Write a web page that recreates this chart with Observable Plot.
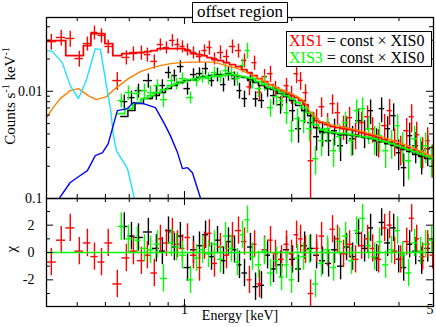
<!DOCTYPE html>
<html><head><meta charset="utf-8">
<script src="https://cdn.jsdelivr.net/npm/d3@7"></script>
<script src="https://cdn.jsdelivr.net/npm/@observablehq/plot@0.6"></script>
<style>
body{margin:0;background:#fff;}
#wrap{position:relative;width:436px;height:327px;overflow:hidden;background:#fff;font-family:"Liberation Serif","DejaVu Serif",serif;}
#top,#bot{position:absolute;left:0;}
#top{top:0;z-index:2}
#bot{top:197px;z-index:1}
.box{position:absolute;background:#fff;border:1.3px solid #000;box-sizing:border-box;z-index:5;color:#000;}
#title{left:192px;top:2px;width:96px;height:21px;font-size:17px;line-height:18px;text-align:center;}
#legend{left:286px;top:31px;width:146px;height:36px;font-size:16px;line-height:17px;padding:0 0 0 2px;white-space:nowrap;}
#ylab{position:absolute;left:9px;top:96px;transform:translate(-50%,-50%) rotate(-90deg);white-space:nowrap;font-size:15px;z-index:5;}
#ylab sup{font-size:10px;}
</style></head><body>
<div id="wrap">
  <div id="top"></div>
  <div id="bot"></div>
  <div id="title" class="box">offset region</div>
  <div id="legend" class="box"><div><span style="color:#ff0000">XIS1</span> = const × XIS0</div><div><span style="color:#00ff00">XIS3</span> = const × XIS0</div></div>
  <div id="ylab">Counts s<sup>-1</sup> keV<sup>-1</sup></div>
</div>
<script>
// ---- axes / ticks ----
const xDomain = [0.41, 5.0];
const countsDomain = [0.001, 0.0488];
const chiDomain = [-3.95, 3.95];
const xMinorTicks = [0.5, 0.6, 0.7, 0.8, 0.9, 2, 3, 4];
const xMajorTicks = [1];
const xLabelValues = [1, 5];
const xLabelTexts = ["1", "5"];
const countsMinorTicks = [0.002, 0.003, 0.004, 0.005, 0.006, 0.007, 0.008, 0.009, 0.02, 0.03, 0.04];
const countsMajorTicks = [0.01];
const countsLabelValues = [0.01, 0.001];
const countsLabelTexts = ["0.01", "0.1"];
const chiMinorTicks = [-3, -1, 1, 3];
const chiMajorTicks = [-2, 0, 2];
const chiLabelValues = [2, 0, -2];
const chiLabelTexts = ["2", "0", "-2"];

// ---- XIS1 (red) ----
const xis1Energy = [0.423,0.451,0.478,0.507,0.534,0.559,0.585,0.611,0.648,0.687,0.719,0.757,0.787,0.823,0.856,0.890,0.925,0.956,0.987,1.020,1.060,1.102,1.138,1.175,1.214,1.262,1.312,1.364,1.418,1.474,1.522,1.573,1.624,1.678,1.744,1.801,1.873,1.934,1.998,2.064,2.118,2.187,2.259,2.349,2.426,2.522,2.604,2.690,2.796,2.907,3.022,3.142,3.266,3.374,3.507,3.646,3.766,3.890,4.045,4.205,4.342,4.485,4.662,4.816,4.974];
const xis1Counts = [0.0291,0.0318,0.0311,0.0202,0.0279,0.0354,0.0332,0.0262,0.0126,0.0207,0.0225,0.0230,0.0220,0.0190,0.0273,0.0256,0.0298,0.0273,0.0262,0.0245,0.0230,0.0211,0.0240,0.0256,0.0202,0.0230,0.0211,0.0262,0.0240,0.0194,0.0110,0.0185,0.0098,0.0137,0.0146,0.0106,0.00873,0.0113,0.00932,0.0146,0.0126,0.00972,0.00225,0.00556,0.00719,0.00510,0.00767,0.00632,0.00468,0.00568,0.00394,0.00510,0.00580,0.00448,0.00339,0.00478,0.00660,0.00346,0.00291,0.00429,0.00580,0.00394,0.00279,0.00346,0.00235];
const xis1Err = [0.0049,0.0054,0.0053,0.0034,0.0042,0.0053,0.0050,0.0039,0.0024,0.0031,0.0034,0.0035,0.0033,0.0029,0.0035,0.0033,0.0039,0.0035,0.0034,0.0032,0.0030,0.0027,0.0031,0.0038,0.0026,0.0035,0.0032,0.0039,0.0036,0.0029,0.0019,0.0028,0.0016,0.0023,0.0025,0.0018,0.0017,0.0019,0.0018,0.0028,0.0024,0.0018,0.0020,0.0012,0.0015,0.0011,0.0016,0.0015,0.0012,0.0014,0.0011,0.0013,0.0015,0.0012,0.0010,0.0013,0.0018,0.0010,0.0009,0.0013,0.0017,0.0012,0.0009,0.0011,0.0008];
const xis1Model = [0.02972,0.02972,0.02153,0.02153,0.02669,0.03454,0.03454,0.02787,0.02153,0.02248,0.02296,0.02296,0.02346,0.02397,0.02503,0.02503,0.02503,0.02503,0.02503,0.02397,0.02248,0.02200,0.02153,0.02063,0.01976,0.01934,0.01852,0.01775,0.01700,0.01594,0.01494,0.01401,0.01314,0.01232,0.01155,0.01083,0.01015,0.00972,0.00912,0.00873,0.00819,0.00751,0.00633,0.00533,0.00510,0.00489,0.00468,0.00458,0.00449,0.00439,0.00430,0.00412,0.00394,0.00386,0.00370,0.00354,0.00339,0.00325,0.00312,0.00298,0.00286,0.00274,0.00262,0.00251,0.00241];
const xis1Chi = [-0.7,0.9,1.8,0.1,0.7,-0.3,-0.7,0.7,-2.3,-0.4,0.1,-0.6,-0.2,-1.5,1.0,0.7,1.5,0.6,0.3,1.1,-0.2,-1.1,0.5,1.4,-0.8,0.4,-0.2,1.2,1.6,0.8,-2.0,0.6,-2.3,0.2,0.9,-0.1,-0.5,0.6,-0.1,1.3,1.0,0.2,-3.0,0.3,1.2,0.0,1.7,1.0,-0.1,0.6,-0.5,0.5,1.0,0.3,-0.5,1.8,2.0,0.1,-0.5,0.8,2.5,1.0,-0.3,0.6,-0.2];

// ---- XIS0 (black) ----
const xis0Energy = [0.678,0.710,0.743,0.792,0.834,0.867,0.902,0.937,0.974,1.020,1.060,1.102,1.146,1.191,1.238,1.287,1.329,1.382,1.427,1.474,1.532,1.583,1.645,1.711,1.778,1.861,1.934,2.011,2.090,2.174,2.259,2.349,2.441,2.538,2.638,2.743,2.851,2.964,3.081,3.203,3.330,3.462,3.576,3.718,3.865,3.992,4.124,4.286,4.456,4.632,4.816];
const xis0Counts = [0.00801,0.00873,0.01015,0.01259,0.00972,0.01131,0.01496,0.01402,0.01701,0.01060,0.01432,0.01464,0.01630,0.01259,0.01432,0.01155,0.01464,0.01314,0.01015,0.00855,0.01259,0.0085,0.0082,0.01060,0.00912,0.00751,0.00932,0.00660,0.00448,0.00660,0.00510,0.00377,0.00411,0.00346,0.00429,0.00311,0.00448,0.00361,0.00532,0.00411,0.00660,0.00346,0.00689,0.00448,0.00593,0.00267,0.00194,0.00385,0.00311,0.00251,0.00291];
const xis0Err = [0.0012,0.0013,0.0015,0.0019,0.0015,0.0015,0.0019,0.0018,0.0022,0.0014,0.0019,0.0019,0.0021,0.0016,0.0021,0.0017,0.0022,0.0020,0.0017,0.0015,0.0021,0.0014,0.0013,0.0018,0.0017,0.0014,0.0018,0.0014,0.0012,0.0016,0.0012,0.0010,0.0011,0.0010,0.0012,0.0009,0.0013,0.0011,0.0015,0.0012,0.0017,0.0010,0.0018,0.0013,0.0017,0.00085,0.00066,0.0012,0.0010,0.00085,0.00093];
const xis0Model = [0.00581,0.00661,0.00768,0.00855,0.00912,0.00972,0.01060,0.01130,0.01206,0.01259,0.01286,0.01342,0.01371,0.01401,0.01401,0.01432,0.01432,0.01401,0.01371,0.01342,0.01286,0.01206,0.01130,0.01083,0.01037,0.00952,0.00892,0.00819,0.00736,0.00661,0.00593,0.00458,0.00421,0.00412,0.00403,0.00394,0.00394,0.00386,0.00378,0.00370,0.00362,0.00347,0.00339,0.00325,0.00312,0.00298,0.00286,0.00274,0.00257,0.00246,0.00236];
const xis0Chi = [1.9,1.2,1.1,1.5,0.3,0.1,1.6,0.4,1.2,-1.1,0.2,0.5,1.3,-0.3,0.9,-0.6,0.8,0.2,-0.9,-1.5,0.4,-2.5,-2.4,-0.2,-1.2,-0.9,0.2,-0.5,-1.2,0.5,0.3,-0.2,-0.6,-0.8,0.2,-1.0,0.4,-0.3,1.4,0.3,1.8,-0.4,2.2,0.7,1.8,-0.5,-1.1,0.6,0.1,-0.6,0.3];

// ---- XIS3 (green) ----
const xis3Energy = [0.665,0.696,0.738,0.772,0.803,0.840,0.873,0.920,0.950,0.987,1.040,1.081,1.124,1.168,1.214,1.262,1.304,1.355,1.409,1.455,1.503,1.552,1.614,1.678,1.744,1.813,1.873,1.934,1.998,2.077,2.160,2.245,2.333,2.426,2.522,2.622,2.726,2.833,2.945,3.043,3.162,3.287,3.417,3.530,3.670,3.815,3.966,4.097,4.258,4.427,4.602,4.754,4.942];
const xis3Counts = [0.00819,0.00972,0.00952,0.01015,0.00972,0.01131,0.00836,0.01259,0.01180,0.01314,0.00873,0.01259,0.01372,0.01314,0.01496,0.01372,0.01561,0.01496,0.01314,0.01739,0.02401,0.01259,0.01060,0.01206,0.00704,0.00892,0.00819,0.00632,0.00429,0.00556,0.00532,0.00448,0.00235,0.00346,0.00448,0.00279,0.00377,0.00510,0.00346,0.00660,0.00689,0.00448,0.00361,0.00385,0.00279,0.00332,0.00478,0.00311,0.00225,0.00361,0.00279,0.00311,0.00235];
const xis3Err = [0.0012,0.0015,0.0014,0.0015,0.0015,0.0015,0.0013,0.0016,0.0015,0.0017,0.0011,0.0016,0.0018,0.0017,0.0019,0.0018,0.0023,0.0022,0.0020,0.0026,0.0041,0.0021,0.0018,0.0021,0.0013,0.0017,0.0016,0.0014,0.0010,0.0013,0.0013,0.0011,0.0007,0.0010,0.0012,0.00084,0.0011,0.0013,0.0010,0.0017,0.0018,0.0013,0.0011,0.0012,0.00089,0.0010,0.0013,0.0010,0.00077,0.0011,0.00089,0.0010,0.0008];
const xis3Model = [0.00619,0.00690,0.00784,0.00855,0.00912,0.00972,0.01037,0.01130,0.01180,0.01232,0.01286,0.01314,0.01342,0.01371,0.01401,0.01401,0.01432,0.01432,0.01401,0.01371,0.01342,0.01314,0.01232,0.01155,0.01083,0.01037,0.00972,0.00912,0.00855,0.00784,0.00705,0.00633,0.00489,0.00439,0.00421,0.00412,0.00403,0.00403,0.00394,0.00386,0.00378,0.00370,0.00362,0.00347,0.00339,0.00325,0.00312,0.00298,0.00286,0.00274,0.00262,0.00251,0.00241];
const xis3Chi = [1.9,1.0,0.9,0.3,0.2,0.6,-1.9,0.7,0.4,-0.2,-2.0,-0.4,0.2,-0.1,0.6,-0.5,1.2,0.3,-0.7,1.3,2.4,-0.3,-0.9,0.1,-1.5,-0.6,-1.8,-0.9,-2.0,-0.4,-0.3,0.2,-2.3,-0.8,0.2,-1.1,0.8,1.2,-0.6,1.6,2.5,0.5,-0.3,0.8,-0.9,0.2,1.6,-0.2,-1.5,0.7,0.1,0.6,0.9];

// ---- model components ----
const orangeEnergy = [0.410,0.426,0.448,0.478,0.504,0.537,0.566,0.604,0.644,0.696,0.752,0.829,0.913,1.020,1.206,1.409,1.604,1.744,1.897,2.050,2.160,2.259,2.379,2.570,2.930,3.330,3.790,4.310,5.000];
const orangeCounts = [0.00568,0.00690,0.00855,0.01015,0.01060,0.00912,0.00837,0.00892,0.01083,0.01314,0.01527,0.01700,0.01813,0.01872,0.01872,0.01629,0.01342,0.01155,0.01015,0.00912,0.00819,0.00633,0.00533,0.00489,0.00449,0.00403,0.00354,0.00305,0.00241];
const cyanEnergy = [0.412,0.426,0.454,0.478,0.504,0.530,0.562,0.581,0.604,0.620,0.632,0.644,0.670,0.692,0.710,0.724];
const cyanCounts = [0.02397,0.02346,0.01852,0.01130,0.00855,0.01259,0.02503,0.02450,0.01130,0.00690,0.00386,0.00280,0.00226,0.00190,0.00132,0.00098];
const blueEnergy = [0.443,0.478,0.510,0.534,0.562,0.589,0.611,0.648,0.692,0.719,0.767,0.829,0.884,0.913,0.956,0.987,1.020,1.053,1.112];
const blueCounts = [0.00098,0.00141,0.00164,0.00182,0.00251,0.00268,0.00325,0.00661,0.00690,0.00784,0.00768,0.00705,0.00479,0.00386,0.00268,0.00190,0.00194,0.00174,0.00098];

const RED = "#ff0000", GREEN = "#00ff00", BLACK = "#000000", ORANGE = "#ff8000", CYAN = "#1ee0ff", BLUE = "#0000ff";
const FONT = "Liberation Serif";

function table(E, C, Err, M, Chi) {
  const n = E.length;
  const mids = d3.range(n - 1).map(i => Math.sqrt(E[i] * E[i + 1]));
  return E.map((e, i) => ({
    e,
    lo: i > 0 ? mids[i - 1] : e * e / mids[0],
    hi: i < n - 1 ? mids[i] : e * e / mids[n - 2],
    c: C[i], err: Err[i], m: M[i], chi: Chi[i]
  }));
}
const xis0 = table(xis0Energy, xis0Counts, xis0Err, xis0Model, xis0Chi);
const xis1 = table(xis1Energy, xis1Counts, xis1Err, xis1Model, xis1Chi);
const xis3 = table(xis3Energy, xis3Counts, xis3Err, xis3Model, xis3Chi);

const W = 436, ML = 46, MR = 3;
const FW = W - ML - MR;
const TH = 199, TMT = 17, TMB = 1, TFH = TH - TMT - TMB;
const BH = 130, BMT = 1, BMB = 21, BFH = BH - BMT - BMB;

function crossesTop(rows, col) {
  return [
    Plot.ruleY(rows, {y: "c", x1: "lo", x2: "hi", stroke: col, strokeWidth: 1.4, clip: true}),
    Plot.ruleX(rows, {x: "e", y1: d => Math.max(d.c - d.err, 1e-4), y2: d => d.c + d.err, stroke: col, strokeWidth: 1.4, clip: true})
  ];
}
function stepModel(rows, col, sw) {
  return Plot.line(rows.flatMap(d => [{x: d.lo, y: d.m}, {x: d.hi, y: d.m}]), {x: "x", y: "y", stroke: col, strokeWidth: sw, clip: true});
}
function crossesChi(rows, col) {
  return [
    Plot.ruleY(rows, {y: "chi", x1: "lo", x2: "hi", stroke: col, strokeWidth: 1.4, clip: true}),
    Plot.ruleX(rows, {x: "e", y1: d => d.chi - 1, y2: d => d.chi + 1, stroke: col, strokeWidth: 1.4, clip: true})
  ];
}
function xTicks(fh) {
  return [
    Plot.ruleX(xMinorTicks, {x: d => d, insetTop: fh - 4, strokeWidth: 1}),
    Plot.ruleX(xMinorTicks, {x: d => d, insetBottom: fh - 4, strokeWidth: 1}),
    Plot.ruleX(xMajorTicks, {x: d => d, insetTop: fh - 7, strokeWidth: 1}),
    Plot.ruleX(xMajorTicks, {x: d => d, insetBottom: fh - 7, strokeWidth: 1})
  ];
}
function yTicks(minor, major) {
  return [
    Plot.ruleY(minor, {y: d => d, insetRight: FW - 4, strokeWidth: 1}),
    Plot.ruleY(minor, {y: d => d, insetLeft: FW - 4, strokeWidth: 1}),
    Plot.ruleY(major, {y: d => d, insetRight: FW - 7, strokeWidth: 1}),
    Plot.ruleY(major, {y: d => d, insetLeft: FW - 7, strokeWidth: 1})
  ];
}

const topPlot = Plot.plot({
  width: W, height: TH, marginLeft: ML, marginRight: MR, marginTop: TMT, marginBottom: TMB,
  style: {fontFamily: FONT, overflow: "visible", background: "transparent"},
  x: {type: "log", domain: xDomain, axis: null},
  y: {type: "log", domain: countsDomain, axis: null},
  marks: [
    ...crossesTop(xis0, BLACK),
    ...crossesTop(xis1, RED),
    ...crossesTop(xis3, GREEN),
    stepModel(xis1, RED, 1.8),
    stepModel(xis0, BLACK, 1.5),
    stepModel(xis3, GREEN, 1.8),
    Plot.line(d3.zip(orangeEnergy, orangeCounts), {x: d => d[0], y: d => d[1], stroke: ORANGE, strokeWidth: 1.4, clip: true}),
    Plot.line(d3.zip(cyanEnergy, cyanCounts), {x: d => d[0], y: d => d[1], stroke: CYAN, strokeWidth: 1.4, clip: true}),
    Plot.line(d3.zip(blueEnergy, blueCounts), {x: d => d[0], y: d => d[1], stroke: BLUE, strokeWidth: 1.4, clip: true}),
    ...xTicks(TFH),
    ...yTicks(countsMinorTicks, countsMajorTicks),
    Plot.text(countsLabelValues, {y: d => d, text: (d, i) => countsLabelTexts[i], frameAnchor: "left", dx: -4, textAnchor: "end", fontSize: 14, fontFamily: FONT}),
    Plot.frame({stroke: "black", strokeWidth: 1.3})
  ]
});
document.getElementById("top").appendChild(topPlot);

const botPlot = Plot.plot({
  width: W, height: BH, marginLeft: ML, marginRight: MR, marginTop: BMT, marginBottom: BMB,
  style: {fontFamily: FONT, overflow: "visible", background: "transparent"},
  x: {type: "log", domain: xDomain, axis: null},
  y: {domain: chiDomain, axis: null},
  marks: [
    ...crossesChi(xis0, BLACK),
    ...crossesChi(xis1, RED),
    ...crossesChi(xis3, GREEN),
    Plot.ruleY([0], {stroke: GREEN, strokeWidth: 1.5}),
    ...xTicks(BFH),
    ...yTicks(chiMinorTicks, chiMajorTicks),
    Plot.text(chiLabelValues, {y: d => d, text: (d, i) => chiLabelTexts[i], frameAnchor: "left", dx: -12, textAnchor: "end", fontSize: 14, fontFamily: FONT}),
    Plot.text(["χ"], {frameAnchor: "left", dx: -35, rotate: -90, fontSize: 15, fontFamily: FONT}),
    Plot.text(xLabelValues.slice(0, 1), {x: d => d, text: (d, i) => xLabelTexts[i], frameAnchor: "bottom", dy: 7, fontSize: 14, fontFamily: FONT}),
    Plot.text(xLabelValues.slice(1), {x: d => d, text: (d, i) => xLabelTexts[i + 1], frameAnchor: "bottom", dy: 7, textAnchor: "end", fontSize: 14, fontFamily: FONT}),
    Plot.text(["Energy [keV]"], {frameAnchor: "bottom", dy: 13, fontSize: 14, fontFamily: FONT}),
    Plot.frame({stroke: "black", strokeWidth: 1.3})
  ]
});
document.getElementById("bot").appendChild(botPlot);
</script>
</body></html>
